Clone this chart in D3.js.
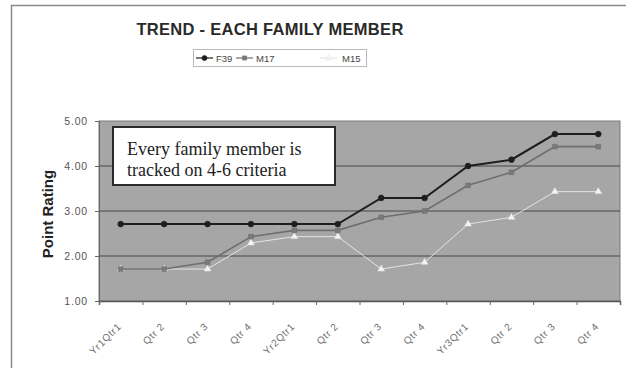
<!DOCTYPE html>
<html>
<head>
<meta charset="utf-8">
<script src="https://cdn.jsdelivr.net/npm/d3@7/dist/d3.min.js"></script>
<style>
  html, body { margin: 0; padding: 0; background: #fff; }
  svg { display: block; }
</style>
</head>
<body>
<svg id="chart" width="626" height="368"></svg>
<script>
// Quarterly point ratings per family member
const quarters = ["Yr1Qtr1", "Qtr 2", "Qtr 3", "Qtr 4",
                  "Yr2Qtr1", "Qtr 2", "Qtr 3", "Qtr 4",
                  "Yr3Qtr1", "Qtr 2", "Qtr 3", "Qtr 4"];
const f39 = [2.71, 2.71, 2.71, 2.71, 2.71, 2.71, 3.29, 3.29, 4.00, 4.14, 4.71, 4.71];
const m17 = [1.71, 1.71, 1.86, 2.43, 2.57, 2.57, 2.86, 3.00, 3.57, 3.86, 4.43, 4.43];
const m15 = [1.71, 1.71, 1.71, 2.29, 2.43, 2.43, 1.71, 1.86, 2.71, 2.86, 3.43, 3.43];
const yTicks = [1, 2, 3, 4, 5];

const svg = d3.select("#chart");
const plot = { left: 99, right: 620, top: 121, bottom: 301 };
const sans = "Liberation Sans, Arial, sans-serif";

// outer chart frame
svg.append("rect")
  .attr("x", 11.5).attr("y", 5.5).attr("width", 700).attr("height", 500)
  .attr("fill", "#fff").attr("stroke", "#8a8a8a").attr("stroke-width", 1.5);

// title
svg.append("text")
  .attr("x", 270).attr("y", 35)
  .attr("text-anchor", "middle")
  .attr("font-family", sans)
  .attr("font-weight", "bold").attr("font-size", 16.5)
  .attr("letter-spacing", 0.3)
  .attr("fill", "#2a2a2a")
  .text("TREND - EACH FAMILY MEMBER");

const x = d3.scaleBand().domain(d3.range(quarters.length))
  .range([plot.left, plot.right]).padding(0);
const xc = i => x(i) + x.bandwidth() / 2;
const xEdge = d3.scaleLinear().domain([0, quarters.length]).range([plot.left, plot.right]);
const y = d3.scaleLinear().domain([1, 5]).range([plot.bottom, plot.top]);

// plot area
svg.append("rect")
  .attr("x", plot.left).attr("y", plot.top)
  .attr("width", plot.right - plot.left).attr("height", plot.bottom - plot.top)
  .attr("fill", "#a6a6a6").attr("stroke", "#7a7a7a").attr("stroke-width", 1);

// horizontal gridlines
svg.append("g").selectAll("line")
  .data(yTicks.filter(v => v > 1 && v < 5))
  .join("line")
  .attr("x1", plot.left).attr("x2", plot.right)
  .attr("y1", d => y(d)).attr("y2", d => y(d))
  .attr("stroke", "#666").attr("stroke-width", 1.6);

// y axis
const yAxis = svg.append("g")
  .attr("transform", `translate(${plot.left},0)`)
  .call(d3.axisLeft(y).tickValues(yTicks).tickFormat(d3.format(".2f")).tickSize(4).tickPadding(7));
yAxis.select(".domain").attr("stroke", "#666");
yAxis.selectAll(".tick line").attr("stroke", "#666");
yAxis.selectAll("text")
  .attr("font-family", sans)
  .attr("font-size", 10.5).attr("letter-spacing", 0.8).attr("fill", "#555");

// x axis: tick marks on category boundaries
const xTickAxis = svg.append("g")
  .attr("transform", `translate(0,${plot.bottom})`)
  .call(d3.axisBottom(xEdge).tickValues(d3.range(quarters.length + 1)).tickSize(4).tickFormat(""));
xTickAxis.select(".domain").attr("stroke", "#555").attr("stroke-width", 1.5);
xTickAxis.selectAll(".tick line").attr("stroke", "#666");

// x axis labels at category centres, slanted
const xLabelAxis = svg.append("g")
  .attr("transform", `translate(0,${plot.bottom})`)
  .call(d3.axisBottom(x).tickFormat(i => quarters[i]).tickSize(0));
xLabelAxis.select(".domain").remove();
xLabelAxis.selectAll("text")
  .attr("font-family", sans)
  .attr("font-size", 10).attr("letter-spacing", 0.7).attr("fill", "#707070")
  .attr("text-anchor", "end")
  .attr("dy", 0)
  .attr("transform", "translate(-1,24) rotate(-45)");

// y axis title
svg.append("text")
  .attr("transform", "translate(53,214) rotate(-90)")
  .attr("text-anchor", "middle")
  .attr("font-family", sans)
  .attr("font-weight", "bold").attr("font-size", 15)
  .attr("fill", "#222")
  .text("Point Rating");

// series
const series = [
  { name: "F39", values: f39, stroke: "#1e1e1e", width: 2, marker: d3.symbolCircle, size: 26, fill: "#1e1e1e" },
  { name: "M17", values: m17, stroke: "#6e6e6e", width: 1.6, marker: d3.symbolSquare, size: 22, fill: "#7a7a7a" },
  { name: "M15", values: m15, stroke: "#e4e4e4", width: 1, marker: d3.symbolTriangle, size: 20, fill: "#f4f4f4" }
];

const line = d3.line().x((d, i) => xc(i)).y(d => y(d));

// draw lightest first so darker lines sit on top
[...series].reverse().forEach(s => {
  const g = svg.append("g");
  g.append("path")
    .datum(s.values)
    .attr("d", line)
    .attr("fill", "none")
    .attr("stroke", s.stroke).attr("stroke-width", s.width);
  g.selectAll("path.mk")
    .data(s.values)
    .join("path")
    .attr("class", "mk")
    .attr("d", d3.symbol().type(s.marker).size(s.size))
    .attr("transform", (d, i) => `translate(${xc(i)},${y(d)})`)
    .attr("fill", s.fill).attr("stroke", s.stroke).attr("stroke-width", 0.6);
});

// legend
const legend = svg.append("g");
legend.append("rect")
  .attr("x", 193.5).attr("y", 49.5).attr("width", 173).attr("height", 17)
  .attr("fill", "#fff").attr("stroke", "#b8b8b8").attr("stroke-width", 1);
const legendX = [196, 236, 320];
series.forEach((s, i) => {
  const lx = legendX[i];
  legend.append("line")
    .attr("x1", lx).attr("x2", lx + 17).attr("y1", 58).attr("y2", 58)
    .attr("stroke", s.stroke).attr("stroke-width", 1.2);
  legend.append("path")
    .attr("d", d3.symbol().type(s.marker).size(s.size * 0.8))
    .attr("transform", `translate(${lx + 8.5},58)`)
    .attr("fill", s.fill).attr("stroke", s.stroke).attr("stroke-width", 0.5);
  legend.append("text")
    .attr("x", i === 2 ? 342 : lx + 20).attr("y", 61.5)
    .attr("font-family", sans)
    .attr("font-size", 9.5).attr("fill", "#444")
    .text(s.name);
});

// annotation box
const note = svg.append("g");
note.append("rect")
  .attr("x", 113).attr("y", 127).attr("width", 222).attr("height", 58)
  .attr("fill", "#fff").attr("stroke", "#2a2a2a").attr("stroke-width", 2);
note.selectAll("text")
  .data(["Every family member is", "tracked on 4-6 criteria"])
  .join("text")
  .attr("x", 127).attr("y", (d, i) => 155 + i * 21)
  .attr("font-family", "Liberation Serif, Times New Roman, serif")
  .attr("font-size", 18).attr("fill", "#222")
  .text(d => d);
</script>
</body>
</html>
